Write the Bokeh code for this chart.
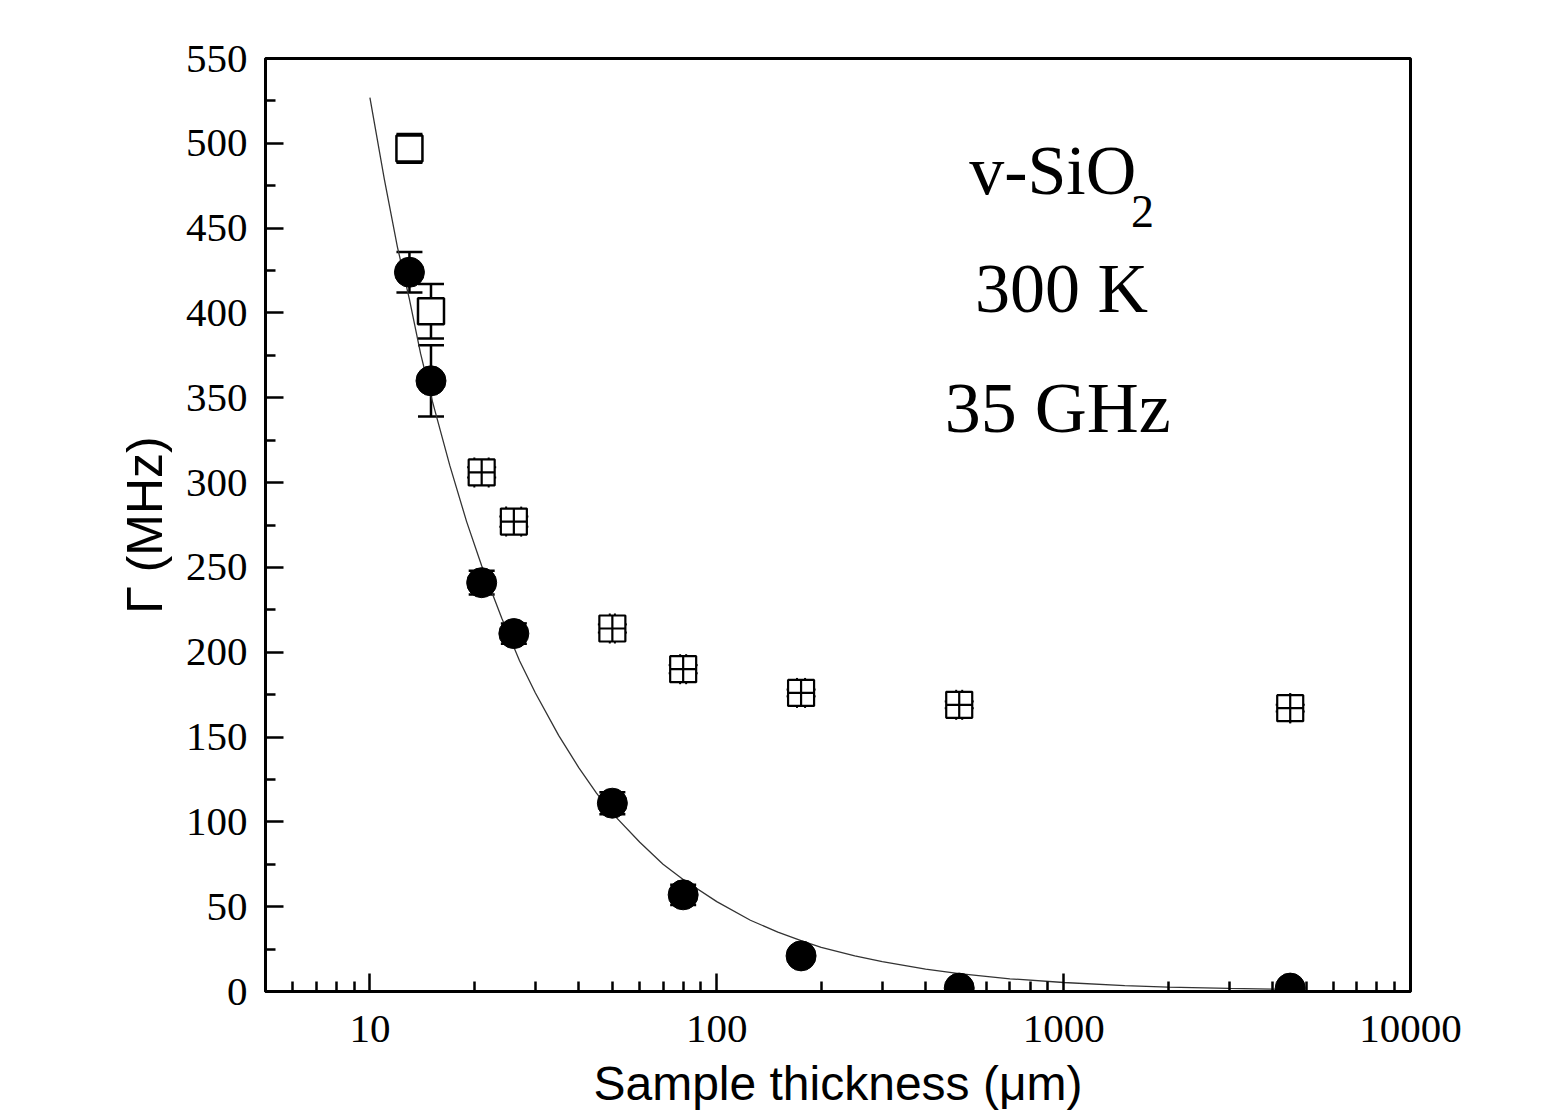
from bokeh.plotting import figure
from bokeh.models import ColumnDataSource, FixedTicker, Whisker, TeeHead, Label, PrintfTickFormatter
from bokeh.embed import file_html
from bokeh.resources import INLINE

# ---- data ----
thickness = [13, 15, 21, 26, 50, 80, 175, 500, 4500]           # µm
gamma_excess = [424, 360, 241, 211, 111, 57, 21, 2, 2]          # filled circles, MHz
gamma_excess_err = [12, 21, 7, 6, 6.5, 6, 3, 2, 2]
gamma_total = [497, 401, 306, 277, 214, 190, 176, 169, 167]     # open squares, MHz
gamma_total_err = [8.5, 16, 3, 3, 2.4, 2.4, 2, 2, 2]
thickness_err = [0, 0, 1, 1.3, 0.85, 1.6, 4.7, 10, 0]

fit_x = [10, 11, 12, 13, 14, 15, 17, 19, 21, 24, 27, 30, 35, 40, 45, 50, 60, 70, 80,
         100, 125, 150, 175, 200, 250, 300, 400, 500, 700, 1000, 1500, 2000, 3000, 4500]
fit_y = [527, 479, 439, 408, 376, 351, 310, 277, 251, 220, 195, 176, 151, 132, 117, 105,
         88, 75, 66, 53, 42, 35, 30, 26, 21, 17.6, 13.2, 10.5, 7.5, 5.3, 3.5, 2.6, 1.8, 1.2]

y_ticks = [0, 50, 100, 150, 200, 250, 300, 350, 400, 450, 500, 550]
x_ticks = [10, 100, 1000, 10000]

SERIF = "Liberation Serif"
SANS = "Liberation Sans"

p = figure(frame_width=1145, frame_height=933, x_axis_type="log",
           x_range=(5, 10000), y_range=(0, 550),
           output_backend="svg", toolbar_location=None,
           min_border_left=265, min_border_right=129, min_border_top=58, min_border_bottom=120)
p.background_fill_color = "white"
p.border_fill_color = "white"
p.xgrid.visible = False
p.ygrid.visible = False
p.outline_line_color = "black"
p.outline_line_width = 3

# axes
minor_x = []
for dec in [1, 10, 100, 1000]:
    for m in range(2, 10):
        v = dec * m
        if 5 <= v <= 10000:
            minor_x.append(v)
minor_y = [t + 25 for t in y_ticks[:-1]]
p.xaxis.ticker = FixedTicker(ticks=x_ticks, minor_ticks=minor_x)
p.yaxis.ticker = FixedTicker(ticks=y_ticks, minor_ticks=minor_y)
p.xaxis.formatter = PrintfTickFormatter(format="%d")
for ax in (p.xaxis, p.yaxis):
    ax.axis_line_width = 3
    ax.major_tick_line_width = 2.5
    ax.minor_tick_line_width = 2.5
    ax.major_tick_in = 18
    ax.major_tick_out = 0
    ax.minor_tick_in = 10
    ax.minor_tick_out = 0
    ax.major_label_text_font = SERIF
    ax.major_label_text_font_size = "41px"
    ax.major_label_text_color = "black"
    ax.axis_label_text_font = SANS
    ax.axis_label_text_font_style = "normal"
    ax.axis_label_text_color = "black"
p.xaxis.major_label_standoff = 24
p.yaxis.major_label_standoff = 18
p.xaxis.axis_label = "Sample thickness (μm)"
p.xaxis.axis_label_text_font_size = "48px"
p.xaxis.axis_label_standoff = 12
p.yaxis.axis_label = "Γ (MHz)"
p.yaxis.axis_label_text_font_size = "50px"
p.yaxis.axis_label_standoff = 10

# fit curve
p.line(fit_x, fit_y, line_color="#333333", line_width=1.3)

# open squares (total linewidth)
def sq_source(sl):
    x = thickness[sl]
    y = gamma_total[sl]
    ey = gamma_total_err[sl]
    ex = thickness_err[sl]
    return ColumnDataSource(dict(
        x=x, y=y,
        yl=[a - b for a, b in zip(y, ey)], yu=[a + b for a, b in zip(y, ey)],
        xl=[a - b for a, b in zip(x, ex)], xu=[a + b for a, b in zip(x, ex)]))

src_plain = sq_source(slice(0, 2))
src_cross = sq_source(slice(2, None))

# plain squares: error bars underneath
p.add_layout(Whisker(source=src_plain, base="x", lower="yl", upper="yu", dimension="height",
                     line_width=2.5, line_color="black",
                     upper_head=TeeHead(size=26, line_width=2.5, line_color="black"),
                     lower_head=TeeHead(size=26, line_width=2.5, line_color="black")))
p.scatter("x", "y", source=src_plain, marker="square", size=26,
          fill_color="white", line_color="black", line_width=2.5)

# crossed squares: square then error bars on top
p.scatter("x", "y", source=src_cross, marker="square_cross", size=26,
          fill_color="white", line_color="black", line_width=2.2)
p.add_layout(Whisker(source=src_cross, base="x", lower="yl", upper="yu", dimension="height",
                     line_width=2, line_color="black",
                     upper_head=TeeHead(size=29, line_width=2, line_color="black"),
                     lower_head=TeeHead(size=29, line_width=2, line_color="black")))
p.add_layout(Whisker(source=src_cross, base="y", lower="xl", upper="xu", dimension="width",
                     line_width=2, line_color="black",
                     upper_head=TeeHead(size=30, line_width=2, line_color="black"),
                     lower_head=TeeHead(size=30, line_width=2, line_color="black")))

# filled circles (excess linewidth)
src_c = ColumnDataSource(dict(
    x=thickness, y=gamma_excess,
    yl=[a - b for a, b in zip(gamma_excess, gamma_excess_err)],
    yu=[a + b for a, b in zip(gamma_excess, gamma_excess_err)]))
p.add_layout(Whisker(source=src_c, base="x", lower="yl", upper="yu", dimension="height",
                     line_width=2.5, line_color="black",
                     upper_head=TeeHead(size=26, line_width=2.5, line_color="black"),
                     lower_head=TeeHead(size=26, line_width=2.5, line_color="black")))
p.scatter("x", "y", source=src_c, marker="circle", size=30,
          fill_color="black", line_color="black", line_width=1)

# annotations
for txt, x, y, size, align in [("v-SiO", 534, 484, "70px", "left"),
                               ("2", 1563, 460, "46px", "left"),
                               ("300 K", 986, 414.5, "70px", "center"),
                               ("35 GHz", 961, 344, "72px", "center")]:
    p.add_layout(Label(x=x, y=y, text=txt, text_font=SERIF, text_font_size=size,
                       text_align=align, text_baseline="alphabetic", text_color="black"))

open("out.html", "w").write(file_html(p, INLINE))
